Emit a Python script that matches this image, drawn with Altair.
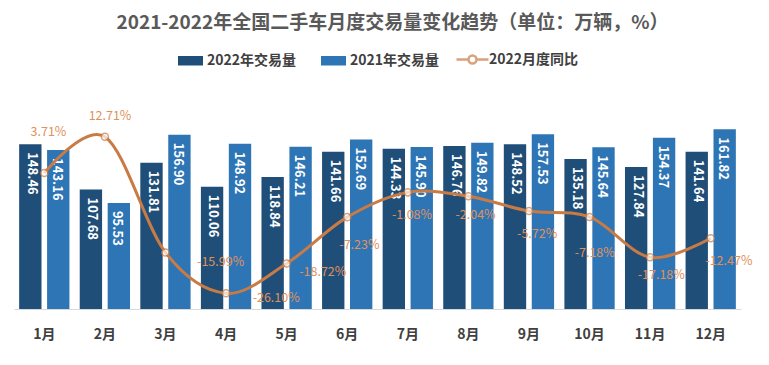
import altair as alt
import pandas as pd

FONT = "Noto Sans CJK SC"

months = ["1月", "2月", "3月", "4月", "5月", "6月", "7月", "8月", "9月", "10月", "11月", "12月"]
series_names = ["2022年交易量", "2021年交易量"]
vol_2022 = [148.46, 107.68, 131.81, 110.06, 118.84, 141.66, 144.33, 146.76, 148.52, 135.18, 127.84, 141.64]
vol_2021 = [143.16, 95.53, 156.90, 148.92, 146.21, 152.69, 145.90, 149.82, 157.53, 145.64, 154.37, 161.82]
yoy_name = "2022月度同比"
yoy_2022 = [3.71, 12.71, -15.99, -26.10, -18.72, -7.23, -1.08, -2.04, -5.72, -7.18, -17.18, -12.47]
# label offsets (pixels) of the percentage labels relative to their points
label_dx = [-1, 0, 50, 45, 31, 7, -1, 2, 3, 0, 6, 13]
label_dy = [-41, -21, 10, 5, 8, 28, 23, 19, 23, 36, 18, 23]

W, H = 727, 242
LINE_DOMAIN = [-30, 30]
STEP = W / len(months)

bar_rows = []
for i, m in enumerate(months):
    bar_rows.append({"month": m, "series": series_names[0], "value": vol_2022[i]})
    bar_rows.append({"month": m, "series": series_names[1], "value": vol_2021[i]})
bar_df = pd.DataFrame(bar_rows)

line_df = pd.DataFrame({
    "month": months,
    "yoy": yoy_2022,
    "name": [yoy_name] * len(months),
    "label": [f"{v:.2f}%" for v in yoy_2022],
    "ldx": label_dx,
    "ldy": label_dy,
})

x_enc = alt.X(
    "month:N", sort=months,
    scale=alt.Scale(paddingInner=0.17, paddingOuter=0.085),
    axis=alt.Axis(title=None, labelAngle=0, labelFontSize=14, labelFontWeight="bold",
                  labelColor="#404040", labelFont=FONT, domainColor="#D9D9D9",
                  domainWidth=1, ticks=False, labelPadding=18, grid=False),
)
xoff = alt.XOffset("series:N", sort=series_names, scale=alt.Scale(paddingInner=0.2))
y_bar = alt.Y("value:Q", scale=alt.Scale(domain=[0, 218], nice=False, zero=True), axis=None)
y_line = alt.Y("yoy:Q", scale=alt.Scale(domain=LINE_DOMAIN, nice=False, zero=False), axis=None)

bars = alt.Chart(bar_df).mark_bar().encode(
    x=x_enc, xOffset=xoff, y=y_bar,
    color=alt.Color("series:N", sort=series_names,
                    scale=alt.Scale(domain=series_names, range=["#1F4E79", "#2E75B6"]),
                    legend=alt.Legend(title=None, orient="none", legendX=164, legendY=-19,
                                      direction="horizontal", symbolType="M-1,-0.38H1V0.38H-1Z",
                                      symbolSize=625, symbolStrokeWidth=0, labelOffset=4,
                                      columnPadding=24, padding=0,
                                      labelFont=FONT, labelFontSize=14, labelFontWeight="bold",
                                      labelColor="#404040")),
)

bar_text = alt.Chart(bar_df).mark_text(
    angle=90, align="left", baseline="middle", dx=8, color="white",
    fontSize=13, fontWeight="bold", font=FONT,
).encode(x=x_enc, xOffset=xoff, y=y_bar, text=alt.Text("value:Q", format=".2f"))

stroke_enc = alt.Stroke(
    "name:N", scale=alt.Scale(domain=[yoy_name], range=["#C97B45"]),
    legend=alt.Legend(title=None, orient="none", legendX=447, legendY=-19,
                      symbolType="M-1.6,0H-0.4M0.4,0H1.6M-0.4,0A0.4,0.4,0,1,1,0.4,0A0.4,0.4,0,1,1,-0.4,0",
                      symbolSize=400, symbolStrokeWidth=2.5, symbolFillColor="white",
                      labelOffset=5, padding=0,
                      labelFont=FONT, labelFontSize=14, labelFontWeight="bold",
                      labelColor="#404040"),
)

line = alt.Chart(line_df).mark_line(interpolate="cardinal", strokeWidth=3).encode(
    x=x_enc, y=y_line, stroke=stroke_enc,
)
points = alt.Chart(line_df).mark_point(filled=True, fill="white", size=50, strokeWidth=1.5).encode(
    x=x_enc, y=y_line, stroke=stroke_enc,
)
px_per_unit = H / (LINE_DOMAIN[1] - LINE_DOMAIN[0])
pct = alt.Chart(line_df).transform_calculate(
    ly=f"datum.yoy - datum.ldy / {px_per_unit}",
    lx=f"datum.ldx + {STEP / 2}",
).mark_text(
    fontSize=12.5, color="#E0915A", font=FONT, baseline="middle", align="center",
).encode(
    x=x_enc,
    y=alt.Y("ly:Q", scale=alt.Scale(domain=LINE_DOMAIN, nice=False, zero=False), axis=None),
    xOffset=alt.XOffset("lx:Q", scale=None),
    text="label:N",
)

chart = alt.layer(bars, bar_text, line, points, pct).resolve_scale(
    y="independent", xOffset="independent"
).properties(
    width=W, height=H,
    padding={"left": 6, "top": 59, "right": 20, "bottom": 40},
    autosize=alt.AutoSizeParams(type="none"),
    background="white",
    title=alt.TitleParams(
        "2021-2022年全国二手车月度交易量变化趋势（单位：万辆，%）",
        fontSize=19, font=FONT, fontWeight="bold", color="#595959",
        anchor="middle", offset=15, dx=15,
    ),
).configure_view(stroke=None)

chart.save("out.html", embed_options={"renderer": "svg", "actions": False})
